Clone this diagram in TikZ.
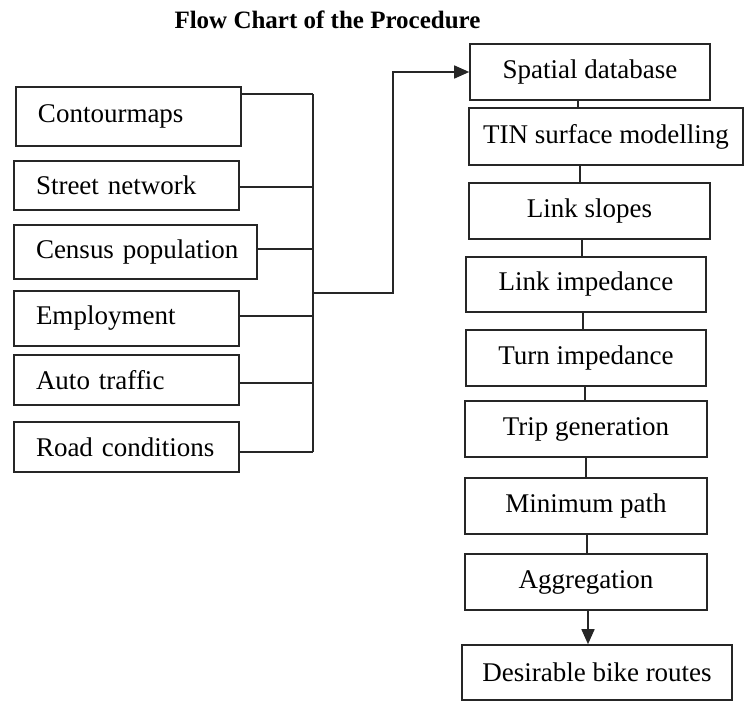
\documentclass[tikz,border=0pt]{standalone}
\usepackage{fontspec}
\setmainfont{Liberation Serif}
\usetikzlibrary{arrows.meta}
\tikzset{
  conn/.style={line width=1.6pt, draw=black!85},
  box/.style={draw=black!85, line width=1.6pt, rectangle, inner ysep=0pt,
    font=\fontsize{27}{30}\selectfont},
  lbox/.style={box, inner xsep=0pt, align=left},
  rbox/.style={box, align=center, inner xsep=0pt},
  tip/.style={-{Triangle[length=15pt,width=13pt]}}
}
\newcommand{\lind}{\hspace*{22pt}}
\begin{document}
\begin{tikzpicture}[x=1pt,y=1pt]
\useasboundingbox (0,0) rectangle (745,-701);
% title
\node[anchor=base, font=\fontsize{25}{28}\selectfont\bfseries] (title) at (327.5,-29) {Flow Chart of the Procedure};
% left boxes
\node[lbox, text width=225pt, minimum height=59pt] (cm) at (128.5,-116.5) {\lind Contourmaps};
\node[lbox, text width=225pt, minimum height=49pt] (sn) at (126.5,-185.5) {\lind Street network};
\node[lbox, text width=243pt, minimum height=54pt] (cp) at (135.5,-252) {\lind Census population};
\node[lbox, text width=225pt, minimum height=55pt] (em) at (126.5,-318.5) {\lind Employment};
\node[lbox, text width=225pt, minimum height=50pt] (at) at (126.5,-380) {\lind Auto traffic};
\node[lbox, text width=225pt, minimum height=50pt] (rc) at (126.5,-447) {\lind Road conditions};
% right boxes
\node[rbox, minimum width=240pt, minimum height=56pt] (sd) at (590,-72) {Spatial database};
\node[rbox, minimum width=274pt, minimum height=57pt] (tin) at (606,-136.5) {TIN surface modelling};
\node[rbox, minimum width=241pt, minimum height=56pt] (ls) at (589.5,-211) {Link slopes};
\node[rbox, minimum width=240pt, minimum height=55pt] (li) at (586,-284.5) {Link impedance};
\node[rbox, minimum width=240pt, minimum height=56pt] (ti) at (586,-358) {Turn impedance};
\node[rbox, minimum width=242pt, minimum height=56pt] (tg) at (586,-429) {Trip generation};
\node[rbox, minimum width=242pt, minimum height=56pt] (mp) at (586,-506) {Minimum path};
\node[rbox, minimum width=242pt, minimum height=56pt] (ag) at (586,-582) {Aggregation};
\node[rbox, minimum width=270pt, minimum height=55pt] (db) at (597,-672.5) {Desirable bike routes};
% bus
\coordinate (bus) at (313,-95);
\coordinate (join) at (313,-293);
\coordinate (turn) at (393,-293);
\draw[conn] ([yshift=-8pt]cm.north east) -- ([yshift=-8pt]cm.north east -| bus);
\draw[conn] ([yshift=-1.5pt]sn.east) -- ([yshift=-1.5pt]sn.east -| bus);
\draw[conn] ([yshift=3pt]cp.east) -- ([yshift=3pt]cp.east -| bus);
\draw[conn] ([yshift=2.5pt]em.east) -- ([yshift=2.5pt]em.east -| bus);
\draw[conn] ([yshift=-3pt]at.east) -- ([yshift=-3pt]at.east -| bus);
\draw[conn] ([yshift=-5pt]rc.east) -- ([yshift=-5pt]rc.east -| bus);
\draw[conn] ([yshift=-8pt]cm.north east -| bus) -- ([yshift=-5pt]rc.east -| bus);
\draw[conn, tip] (join) -- (turn) |- (sd.west);
% right chain
\draw[conn] ([xshift=-12pt]sd.south) -- ([xshift=-12pt]sd.south |- tin.north);
\draw[conn] ([xshift=-26pt]tin.south) -- ([xshift=-26pt]tin.south |- ls.north);
\draw[conn] ([xshift=-7.5pt]ls.south) -- ([xshift=-7.5pt]ls.south |- li.north);
\draw[conn] ([xshift=-3pt]li.south) -- ([xshift=-3pt]li.south |- ti.north);
\draw[conn] ([xshift=-1pt]ti.south) -- ([xshift=-1pt]ti.south |- tg.north);
\draw[conn] (tg.south) -- (tg.south |- mp.north);
\draw[conn] ([xshift=1pt]mp.south) -- ([xshift=1pt]mp.south |- ag.north);
\draw[conn, tip] ([xshift=2pt]ag.south) -- ([xshift=2pt]ag.south |- db.north);
\end{tikzpicture}
\end{document}
